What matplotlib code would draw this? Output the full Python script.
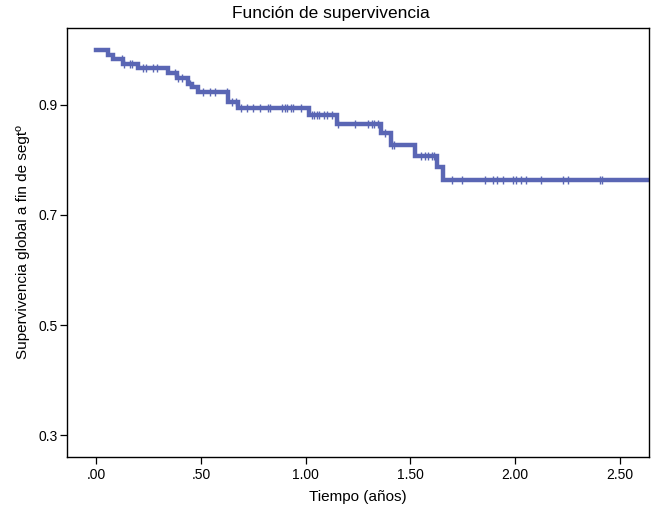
import numpy as np
import matplotlib
matplotlib.use("Agg")
import matplotlib.pyplot as plt

plt.rcParams['font.family'] = ['Liberation Sans', 'DejaVu Sans']

# Kaplan-Meier step curve
step_times = [0.0, 0.057, 0.081, 0.128, 0.200, 0.343, 0.385, 0.438, 0.456, 0.486,
              0.629, 0.677, 1.017, 1.148, 1.359, 1.406, 1.521, 1.625, 1.654]
surv = [1.000, 0.991, 0.983, 0.975, 0.967, 0.959, 0.949, 0.939, 0.932, 0.923,
        0.905, 0.894, 0.882, 0.866, 0.849, 0.827, 0.808, 0.787, 0.764]
end_time = 2.70

# censored observations
censor_times = [0.122, 0.132, 0.162, 0.170, 0.224, 0.237, 0.270, 0.292, 0.376, 0.389,
                0.408, 0.448, 0.511, 0.543, 0.567, 0.623, 0.647, 0.666, 0.691, 0.719,
                0.750, 0.782, 0.822, 0.830, 0.888, 0.901, 0.909, 0.928, 0.938, 0.978,
                1.029, 1.041, 1.052, 1.065, 1.087, 1.103, 1.124, 1.156, 1.235, 1.296,
                1.315, 1.327, 1.344, 1.378, 1.410, 1.423, 1.550, 1.569, 1.585, 1.601,
                1.614, 1.697, 1.747, 1.855, 1.892, 1.914, 1.943, 1.990, 2.003, 2.027,
                2.051, 2.121, 2.229, 2.253, 2.404, 2.412]

xticks = [0.0, 0.5, 1.0, 1.5, 2.0, 2.5]
xtick_labels = [".00", ".50", "1.00", "1.50", "2.00", "2.50"]
yticks = [0.3, 0.5, 0.7, 0.9]
ytick_labels = ["0.3", "0.5", "0.7", "0.9"]

color = "#5a66b4"

fig = plt.figure(figsize=(6.51, 5.07), dpi=100)
ax = fig.add_axes([0.1029, 0.0986, 0.894, 0.8462])

xs = step_times + [end_time]
ys = surv + [surv[-1]]
ax.step(xs, ys, where="post", color=color, lw=3.2, solid_joinstyle="miter")

# place censor marks on the curve
idx = np.searchsorted(step_times, censor_times, side="right") - 1
cens_y = np.array(surv)[idx]
ax.plot(censor_times, cens_y, ls="none", marker="|", ms=6, mew=1.0, color=color)

ax.set_xlim(-0.139, 2.638)
ax.set_ylim(0.26, 1.040)
ax.set_xticks(xticks)
ax.set_xticklabels(xtick_labels)
ax.set_yticks(yticks)
ax.set_yticklabels(ytick_labels)
ax.tick_params(direction="out", length=5, width=0.9, labelsize=10, colors="black")
ax.tick_params(axis="x", pad=3)
ax.tick_params(axis="y", pad=2)

for s in ax.spines.values():
    s.set_linewidth(1.0)

# title sits a bit left of the axes centre in the original
fig.text(331 / 651, 1 - 18 / 507, "Función de supervivencia", fontsize=12.5,
         ha="center", va="baseline")
ax.set_xlabel("Tiempo (años)", fontsize=11, labelpad=6)
ax.set_ylabel("Supervivencia global a fin de segtº", fontsize=11, labelpad=6)

fig.savefig("out.png", dpi=100)
